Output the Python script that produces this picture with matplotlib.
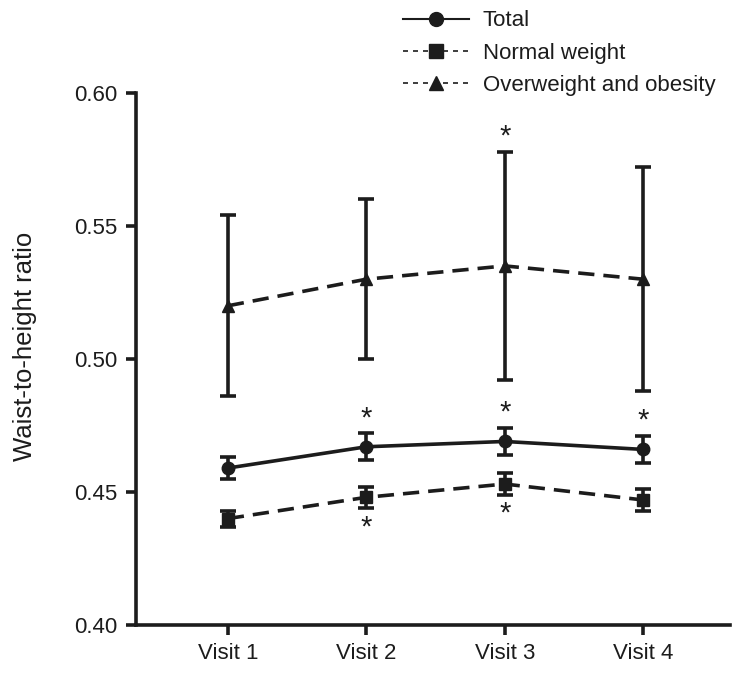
import matplotlib
matplotlib.use("Agg")
import matplotlib.pyplot as plt
from matplotlib.lines import Line2D

visits = ["Visit 1", "Visit 2", "Visit 3", "Visit 4"]
total = [0.459, 0.467, 0.469, 0.466]
total_err = [0.004, 0.005, 0.005, 0.005]
normal = [0.440, 0.448, 0.453, 0.447]
normal_err = [0.003, 0.004, 0.004, 0.004]
over = [0.520, 0.530, 0.535, 0.530]
over_err = [0.034, 0.030, 0.043, 0.042]
total_star = [False, True, True, True]
normal_star = [False, True, True, False]
over_star = [False, False, True, False]

C = "#1c1c1c"
plt.rcParams['font.family'] = ['Liberation Sans', 'DejaVu Sans']

fig = plt.figure(figsize=(7.46, 6.82), dpi=100)
ax = fig.add_axes([0.182, 0.0836, 0.797, 0.78])
x = [1, 2, 3, 4]

ekw = dict(color=C, ecolor=C, elinewidth=2.6, capsize=5.5, capthick=2.6, markersize=9)
ax.errorbar(x, over, yerr=over_err, fmt='^', linestyle=(0, (4.5, 2.5)), lw=2.6, **ekw)
ax.errorbar(x, total, yerr=total_err, fmt='o', linestyle='-', lw=2.6, **ekw)
ax.errorbar(x, normal, yerr=normal_err, fmt='s', linestyle=(0, (4.5, 2.5)), lw=2.6, **ekw)

SFS = 21
for xi, v, e, s in zip(x, total, total_err, total_star):
    if s:
        ax.annotate("*", (xi, v + e), xytext=(0, 1), textcoords='offset points',
                    ha='center', va='bottom', fontsize=SFS, color=C)
for xi, v, e, s in zip(x, over, over_err, over_star):
    if s:
        ax.annotate("*", (xi, v + e), xytext=(0, 1), textcoords='offset points',
                    ha='center', va='bottom', fontsize=SFS, color=C)
for xi, v, e, s in zip(x, normal, normal_err, normal_star):
    if s:
        ax.annotate("*", (xi, v - e), xytext=(0, -24), textcoords='offset points',
                    ha='center', va='bottom', fontsize=SFS, color=C)

ax.set_xlim(0.335, 4.63)
ax.set_ylim(0.40, 0.60)
ax.set_yticks([0.40, 0.45, 0.50, 0.55, 0.60])
ax.set_yticklabels(["0.40", "0.45", "0.50", "0.55", "0.60"])
ax.set_xticks(x)
ax.set_xticklabels(visits)
ax.spines['top'].set_visible(False)
ax.spines['right'].set_visible(False)
for sp in ['left', 'bottom']:
    ax.spines[sp].set_linewidth(2.6)
    ax.spines[sp].set_color(C)
ax.tick_params(axis='both', width=2.6, length=7, color=C, labelsize=16, labelcolor=C, pad=6)
ax.set_ylabel("Waist-to-height ratio", fontsize=18.5, color=C)
ax.yaxis.set_label_coords(-0.166, 0.524)

handles = [
    Line2D([], [], color=C, lw=1.5, marker='o', markersize=10, linestyle='-'),
    Line2D([], [], color=C, lw=1.2, marker='s', markersize=10, linestyle=(0, (3, 3))),
    Line2D([], [], color=C, lw=1.2, marker='^', markersize=10, linestyle=(0, (3, 3))),
]
fig.legend(handles, ["Total", "Normal weight", "Overweight and obesity"],
           loc='upper left', bbox_to_anchor=(0.513, 1.014), frameon=False,
           fontsize=16, handlelength=3.0, handletextpad=0.6, labelspacing=0.5,
           labelcolor=C)

fig.savefig("out.png", dpi=100)
